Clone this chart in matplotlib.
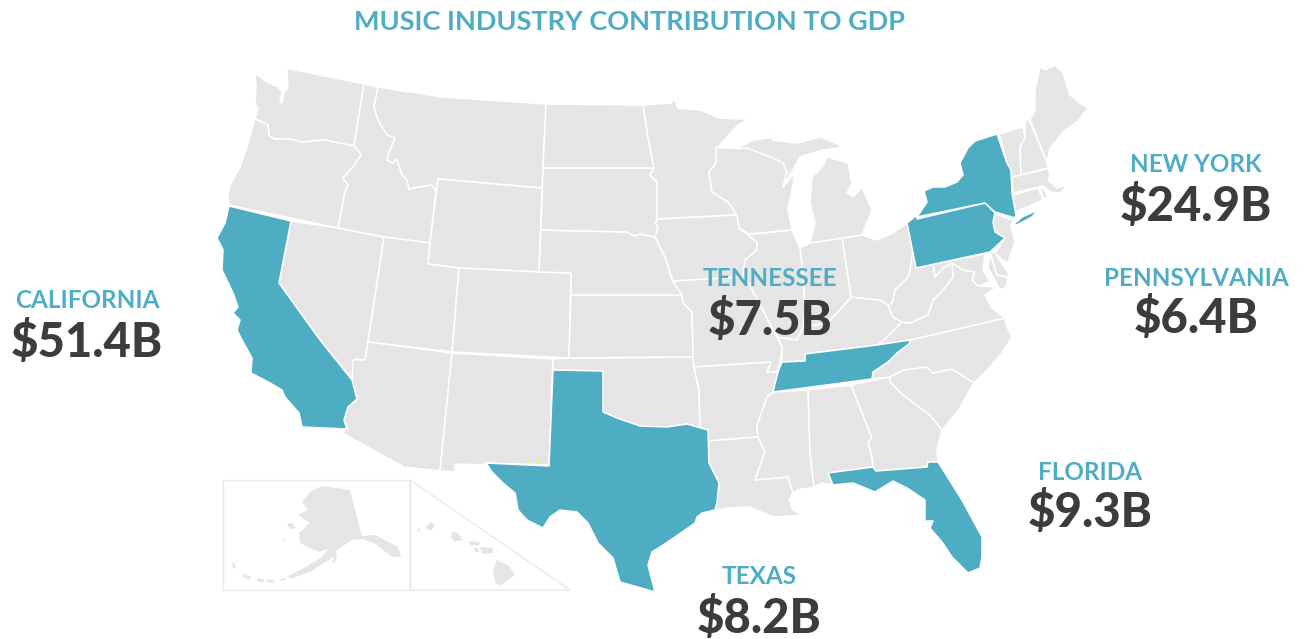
import matplotlib
matplotlib.use("Agg")
import matplotlib.pyplot as plt
from matplotlib.patches import Polygon

TEAL = "#4FADC3"
GREY = "#E5E5E5"
DARK = "#3C3C3C"
INSET = "#E9E9E9"

TITLE = "MUSIC INDUSTRY CONTRIBUTION TO GDP"
label_names = ["CALIFORNIA", "NEW YORK", "PENNSYLVANIA", "TENNESSEE", "FLORIDA", "TEXAS"]
label_values = ["$51.4B", "$24.9B", "$6.4B", "$7.5B", "$9.3B", "$8.2B"]
label_x = [87, 1196, 1196, 770, 1090, 759]
name_y = [301, 165, 279, 278, 472, 576]
value_y = [342, 206, 319, 320, 513, 618]

# State outlines
WA = [(286,68),(364,84),(354,146),(325,140),(302,142),(290,139),(275,139),(269,136),(268,125),(262,122),(255,118),(258,108),(255,103),(256,85),(255,77),(257,74),(265,81),(278,87),(282,92),(280,102),(282,103),(284,92),(288,88),(287,70)]
OR = [(255,119),(262,122),(268,125),(269,136),(275,139),(290,139),(302,142),(325,140),(354,146),(356,148),(361,155),(353,167),(343,178),(348,185),(345,192),(338,228),(229,205),(228,195),(230,185),(240,167),(247,147),(253,125)]
CA = [(229,206),(291,221),(279,283),(320,340),(352,380),(357,399),(348,407),(344,420),(347,429),(302,427),(299,413),(285,397),(282,390),(270,383),(251,373),(252,358),(242,340),(237,330),(240,320),(233,313),(238,307),(233,293),(222,270),(223,250),(217,238),(225,223)]
NV = [(291,221),(338,228),(384,237),(368,342),(365,360),(355,359),(353,380),(320,340),(279,283)]
ID = [(364,84),(378,87),(374,107),(378,120),(387,135),(395,138),(390,150),(387,160),(392,163),(397,159),(402,175),(407,180),(409,189),(418,187),(432,185),(436,191),(430,243),(384,237),(338,228),(345,192),(348,185),(343,178),(353,167),(361,155),(356,148),(354,146)]
MT = [(378,87),(443,97),(546,104),(542,188),(438,179),(436,191),(432,185),(418,187),(409,189),(407,180),(402,175),(397,159),(392,163),(387,160),(390,150),(395,138),(387,135),(378,120),(374,107)]
WY = [(438,179),(542,188),(539,272),(459,268),(428,264),(430,243)]
UT = [(384,237),(430,243),(428,264),(459,268),(452,352),(368,342)]
CO = [(459,268),(539,272),(571,273),(569,358),(452,352)]
AZ = [(368,342),(452,353),(440,471),(404,467),(342,433),(347,427),(344,420),(348,407),(357,399),(352,380),(353,360),(365,360)]
NM = [(452,353),(553,359),(549,465),(484,463),(484,465),(455,464),(455,472),(440,471)]
TX = [(553,370),(603,371),(603,412),(617,418),(640,426),(667,427),(687,424),(708,430),(709,463),(719,483),(717,503),(715,510),(702,513),(697,517),(695,523),(678,535),(660,547),(652,552),(648,565),(655,592),(620,582),(613,558),(598,543),(588,523),(577,512),(560,510),(550,517),(543,528),(527,520),(518,510),(515,493),(503,483),(492,472),(486,463),(549,466)]
OK = [(553,359),(569,358),(693,357),(694,367),(699,390),(700,427),(708,430),(687,424),(667,427),(640,426),(617,418),(603,412),(603,371),(553,370)]
KS = [(571,295),(682,295),(683,303),(692,312),(693,357),(569,358)]
NE = [(541,230),(627,232),(635,236),(640,234),(655,237),(665,257),(672,280),(682,295),(571,295),(571,273),(539,272)]
SD = [(543,168),(654,168),(650,175),(657,182),(658,219),(655,223),(658,227),(655,237),(640,234),(635,236),(627,232),(541,230)]
ND = [(546,104),(643,105),(648,137),(654,168),(543,168)]
MN = [(643,105),(672,103),(673,97),(678,108),(700,110),(720,118),(740,119),(750,118),(738,125),(717,148),(716,163),(709,172),(712,192),(728,202),(737,215),(657,219),(657,182),(650,175),(654,168),(648,137)]
IA = [(658,219),(737,215),(739,228),(757,242),(757,250),(745,260),(743,277),(673,281),(665,257),(655,237),(658,227),(655,223)]
MO = [(673,281),(743,277),(747,280),(763,310),(773,330),(782,347),(780,362),(777,372),(767,372),(771,362),(694,367),(693,357),(692,312),(683,303),(682,295),(672,280)]
AR = [(694,367),(771,362),(767,372),(778,372),(773,392),(767,397),(757,425),(758,437),(708,441),(708,430),(700,427),(699,390)]
LA = [(708,441),(758,437),(765,452),(755,480),(788,477),(793,493),(789,500),(793,510),(803,515),(773,517),(750,507),(727,508),(715,510),(717,503),(719,483),(709,463)]
MS = [(773,392),(808,390),(810,453),(814,487),(797,490),(793,493),(788,477),(755,480),(765,452),(758,437),(757,425),(767,397)]
AL = [(808,390),(851,385),(872,438),(868,442),(872,457),(873,467),(828,473),(833,485),(822,483),(814,487),(810,453)]
GA = [(851,385),(890,377),(890,382),(903,395),(930,415),(942,430),(937,450),(938,462),(928,462),(927,467),(876,471),(873,467),(872,457),(868,442),(872,438)]
SC = [(890,377),(903,370),(927,367),(933,373),(952,369),(974,383),(967,395),(960,408),(942,430),(930,415),(903,395),(890,382)]
NC = [(872,379),(873,372),(888,362),(897,353),(910,340),(1005,318),(1007,327),(1012,337),(1002,353),(987,370),(974,383),(952,369),(933,373),(927,367),(903,370),(890,377)]
TN = [(782,362),(805,361),(805,354),(877,345),(910,340),(909,344),(897,353),(888,362),(873,372),(872,379),(773,392),(778,372)]
KY = [(782,347),(778,337),(797,340),(803,327),(827,323),(838,312),(851,297),(860,298),(880,300),(888,305),(893,317),(902,322),(887,337),(878,345),(805,354),(805,361),(782,362)]
VA = [(878,345),(887,337),(902,322),(910,323),(928,315),(933,300),(943,290),(953,277),(952,263),(963,270),(975,272),(972,280),(978,286),(997,287),(985,295),(992,308),(1005,318),(910,340)]
WV = [(911,250),(917,268),(933,264),(935,277),(943,268),(952,263),(953,277),(943,290),(933,300),(928,315),(910,323),(902,322),(893,317),(888,305),(892,303),(895,290),(908,277),(910,270)]
MD_WEST = [(933,264),(985,254),(983,270),(990,282),(978,286),(972,280),(975,272),(963,270),(952,263),(943,268),(935,277)]
MD_EAST = [(990,253),(997,275),(1008,278),(1006,287),(1000,290),(995,280),(988,268)]
DE = [(990,252),(995,253),(1008,272),(1008,277),(997,275)]
NJ = [(995,214),(1013,220),(1011,226),(1015,243),(1008,262),(1005,262),(995,253),(1005,238),(995,232),(993,222)]
PA = [(907,223),(917,215),(917,219),(985,203),(995,213),(993,222),(995,232),(1005,238),(990,252),(916,268)]
NY = [(917,217),(927,202),(924,191),(933,187),(945,187),(957,182),(963,175),(960,163),(968,148),(975,141),(997,134),(1007,163),(1011,170),(1012,193),(1016,215),(1015,218),(995,212),(985,203)]
LONG_ISLAND = [(1013,225),(1022,217),(1038,210),(1032,217),(1017,225)]
VT = [(999,134),(1023,127),(1025,138),(1020,147),(1021,175),(1012,177),(1007,163)]
NH = [(1025,120),(1029,120),(1047,162),(1048,168),(1043,169),(1021,175),(1020,147),(1025,138)]
ME = [(1030,120),(1035,110),(1035,90),(1040,67),(1045,70),(1055,65),(1063,73),(1070,95),(1080,103),(1088,108),(1077,122),(1065,130),(1050,148),(1047,162)]
MA = [(1012,177),(1043,170),(1048,168),(1050,175),(1048,180),(1057,188),(1067,185),(1060,193),(1050,192),(1043,186),(1013,193)]
CT = [(1013,195),(1038,188),(1043,200),(1020,210),(1016,213)]
RI = [(1040,188),(1043,187),(1048,197),(1044,199)]
OH = [(842,238),(862,235),(877,240),(893,233),(907,223),(913,250),(910,270),(908,277),(895,290),(892,303),(888,305),(880,300),(860,298),(851,297)]
IN = [(800,248),(810,243),(842,238),(851,297),(838,312),(827,323),(803,327),(805,310),(803,277)]
IL = [(750,234),(792,230),(800,248),(803,277),(805,310),(803,327),(797,340),(778,337),(773,330),(763,310),(747,280),(743,277),(745,260),(757,250),(757,242),(739,228)]
WI = [(716,148),(737,148),(747,148),(773,158),(783,163),(787,172),(783,187),(795,173),(788,210),(792,230),(750,234),(739,228),(737,215),(728,202),(712,192),(709,172),(716,163)]
MI_LOWER = [(810,243),(815,223),(810,203),(812,177),(822,167),(827,157),(848,163),(852,183),(847,193),(853,197),(862,187),(872,210),(867,223),(862,235)]
MI_UPPER = [(736,149),(753,140),(770,138),(775,128),(772,140),(797,143),(820,137),(833,142),(843,147),(823,150),(800,157),(793,170),(783,187),(787,172),(783,163),(773,158),(747,148)]
FL = [(828,473),(873,467),(876,471),(927,467),(928,462),(938,462),(962,500),(982,537),(982,557),(980,568),(968,573),(952,557),(942,542),(930,528),(933,521),(925,521),(925,500),(907,488),(893,481),(875,492),(853,483),(833,485)]

# Inset shapes
ALASKA = [(322,486),(350,490),(362,536),(375,535),(398,547),(401,557),(392,557),(377,545),(363,539),(352,540),(337,550),(335,556),(327,561),(310,572),(290,579),(288,576),(306,567),(320,558),(329,549),(318,552),(300,543),(299,533),(310,523),(298,515),(308,510),(302,502),(310,492)]
AK_ISLE_1 = [(287,523),(292,523),(296,528),(290,529)]
AK_ISLE_2 = [(232,563),(235,564),(236,569),(233,568)]
AK_ISLE_3 = [(243,574),(251,577),(249,580),(243,577)]
AK_KODIAK = [(332,563),(336,553),(337,557),(335,562)]
AK_ALEUT_1 = [(257,578),(264,579),(264,582),(258,582)]
AK_ALEUT_2 = [(267,579),(275,581),(273,583),(267,582)]
AK_ALEUT_3 = [(280,579),(286,578),(286,580),(281,581)]
AK_PRIBILOF = [(283,537),(285,539),(284,542)]
HI_BIG = [(497,560),(508,565),(515,575),(500,586),(495,582),(493,570)]
HI_MAUI = [(479,547),(493,548),(493,553),(483,554)]
HI_OAHU = [(452,532),(458,533),(463,540),(455,542),(451,538)]
HI_KAUAI = [(425,527),(432,522),(435,526),(430,531)]
HI_NIIHAU = [(417,530),(421,527),(418,533)]
HI_MOLOKAI = [(468,541),(480,542),(479,546),(470,545)]
HI_LANAI = [(474,548),(478,548),(479,552),(475,552)]
INSET_RECT = [(223,480),(410,480),(410,590),(223,590)]
INSET_TRI = [(410,480),(570,590),(410,590)]
stray_x = [528, 538]
stray_y = [460, 462]

grey_states = [WA, OR, NV, ID, MT, WY, UT, CO, AZ, NM, OK, KS, NE, SD, ND, MN, IA, MO, AR, LA, MS, AL, GA,
               SC, NC, KY, VA, WV, MD_WEST, MD_EAST, DE, NJ, VT, NH, ME, MA, CT, RI, OH, IN, IL, WI, MI_LOWER, MI_UPPER]
teal_states = [CA, TX, TN, FL, PA, NY, LONG_ISLAND]
inset_shapes = [ALASKA, AK_ISLE_1, AK_ISLE_2, AK_ISLE_3, AK_KODIAK, AK_ALEUT_1, AK_ALEUT_2, AK_ALEUT_3, AK_PRIBILOF,
                HI_BIG, HI_MAUI, HI_OAHU, HI_KAUAI, HI_NIIHAU, HI_MOLOKAI, HI_LANAI]

plt.rcParams["font.family"] = ["Lato", "DejaVu Sans"]
fig = plt.figure(figsize=(13.04, 6.39), dpi=100, facecolor="white")
ax = fig.add_axes([0, 0, 1, 1])
ax.set_xlim(0, 1304)
ax.set_ylim(639, 0)
ax.axis("off")

for outline in [INSET_RECT, INSET_TRI]:
    ax.add_patch(Polygon(outline, closed=True, fc="none", ec=INSET, lw=1.0, zorder=1))
for shape in inset_shapes:
    ax.add_patch(Polygon(shape, closed=True, fc=GREY, ec="none", zorder=2))
for shape in grey_states:
    ax.add_patch(Polygon(shape, closed=True, fc=GREY, ec="white", lw=1.1, joinstyle="round", zorder=3))
for shape in teal_states:
    ax.add_patch(Polygon(shape, closed=True, fc=TEAL, ec="white", lw=1.1, joinstyle="round", zorder=4))
ax.scatter(stray_x, stray_y, s=2, c="#FFF200", linewidths=0, zorder=5)

ax.text(630, 22, TITLE, color=TEAL, fontsize=19.5, fontweight="bold", ha="center", va="center", zorder=6)
for x, ny, vy, name, value in zip(label_x, name_y, value_y, label_names, label_values):
    ax.text(x, ny, name, color=TEAL, fontsize=17.5, fontweight="bold", ha="center", va="center", zorder=6)
    ax.text(x, vy, value, color=DARK, fontsize=34, fontweight=900, ha="center", va="center", zorder=6)

fig.savefig("out.png", dpi=100, facecolor="white")
